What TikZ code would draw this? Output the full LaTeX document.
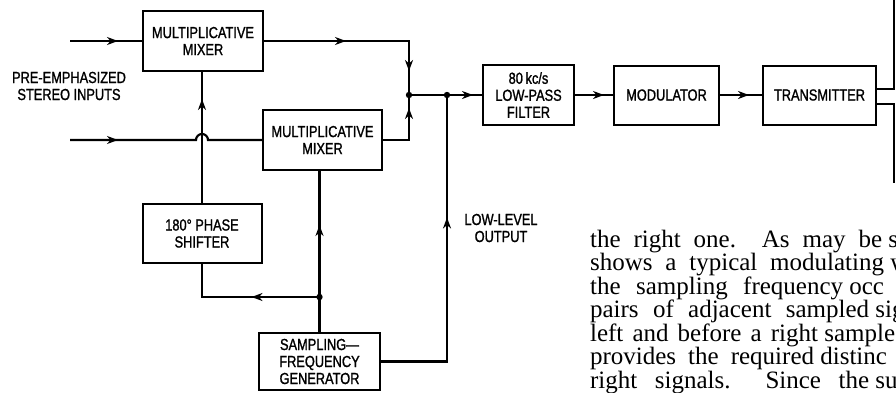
\documentclass[tikz,border=0pt]{standalone}
\usepackage{fontspec}
\usetikzlibrary{arrows.meta,decorations.markings}
\newfontfamily\labelfont[FakeStretch=0.8, FakeBold=1.2]{Liberation Sans}
\newfontfamily\bodyfont{Liberation Serif}

\tikzset{
  block/.style={draw, line width=2pt, inner sep=2pt, align=center, font=\labelfont\fontsize{16}{17}\selectfont},
  lbl/.style={align=center, inner sep=0pt, font=\labelfont\fontsize{16}{17}\selectfont},
  midarrow/.style={postaction={decorate, decoration={markings, mark=at position #1 with {\arrow{Stealth[length=11pt,width=8pt,inset=3.5pt]}}}}},
  bodyline/.style={anchor=base west, inner sep=0pt, font=\bodyfont\fontsize{25}{25}\selectfont}
}

\begin{document}
\begin{tikzpicture}[x=1pt, y=1pt, line width=2.2pt]
\path[use as bounding box, fill=white] (0,0) rectangle (896,392);

\node[block, minimum width=120pt, minimum height=60pt] (mixA) at (203,351) {MULTIPLICATIVE\\MIXER};
\node[block, minimum width=119pt, minimum height=60pt] (mixB) at (322.5,252) {MULTIPLICATIVE\\MIXER};
\node[block, minimum width=119pt, minimum height=59pt] (phase) at (202,158.5) {180° PHASE\\SHIFTER};
\node[block, minimum width=121pt, minimum height=57pt] (gen) at (319.5,30.5) {SAMPLING—\\FREQUENCY\\GENERATOR};
\node[block, minimum width=91pt, minimum height=60pt] (lpf) at (528.5,297) {80\,kc/s\\LOW-PASS\\FILTER};
\node[block, minimum width=105pt, minimum height=59pt] (modu) at (666.5,297) {MODULATOR};
\node[block, minimum width=113pt, minimum height=59pt] (trans) at (819.5,297) {TRANSMITTER};

\node[lbl] (inlbl) at (69,306) {PRE-EMPHASIZED\\STEREO INPUTS};
\node[lbl] (outlbl) at (501,164) {LOW-LEVEL\\OUTPUT};

\coordinate (inA) at (70,351);
\coordinate (inB) at (70,252);
\coordinate (sum) at (409,297);
\coordinate (tap) at (447,297);
\coordinate (split) at (319.5,95);
\coordinate (antA) at (894,392);
\coordinate (antB) at (894,209);

\draw[midarrow=48pt] (inA) -- (mixA.west);
\draw[midarrow=48pt] (inB) -- ([xshift=-6pt]phase.north |- inB) arc[start angle=180, end angle=0, radius=6pt] -- (mixB.west);
\draw[midarrow=104pt] (phase.north) -- (phase.north |- mixA.south);
\draw[midarrow=82pt, midarrow=175pt] (mixA.east) -| (sum);
\draw[midarrow=58pt] (mixB.east) -| (sum);
\draw[midarrow=64pt] (sum) -- (lpf.west);
\draw[midarrow=29pt] (lpf.east) -- (modu.west);
\draw[midarrow=29pt] (modu.east) -- (trans.west);
\draw ([yshift=6pt]trans.east) -| (antA);
\draw ([yshift=-9pt]trans.east) -| (antB);
\draw[midarrow=210pt] (gen.east) -| (tap);
\draw[midarrow=107pt] (gen.north) -- (gen.north |- mixB.south);
\draw[midarrow=68pt] (split) -| (phase.south);

\fill (sum) circle (3.2pt);
\fill (tap) circle (3.2pt);
\fill (split) circle (3.2pt);

\begin{scope}
\clip (0,0) rectangle (896,392);
\node[bodyline] (txt1) at (589,145) {\makebox[292pt][s]{the right one.\ \ As may be}\ se};
\node[bodyline] (txt2) at (589,121.5) {\makebox[294pt][s]{shows a typical modulating}\ w};
\node[bodyline] (txt3) at (589,98) {\makebox[253pt][s]{the sampling frequency}\ occ};
\node[bodyline] (txt4) at (589,74.5) {\makebox[279pt][s]{pairs of adjacent sampled}\ sig};
\node[bodyline] (txt5) at (589,51) {\makebox[228pt][s]{left and before a right}\ sample};
\node[bodyline] (txt6) at (589,27.5) {\makebox[224pt][s]{provides the required}\ distinc};
\node[bodyline] (txt7) at (589,4) {\makebox[279pt][s]{right signals.\ \ Since the}\ su};
\end{scope}
\end{tikzpicture}
\end{document}
